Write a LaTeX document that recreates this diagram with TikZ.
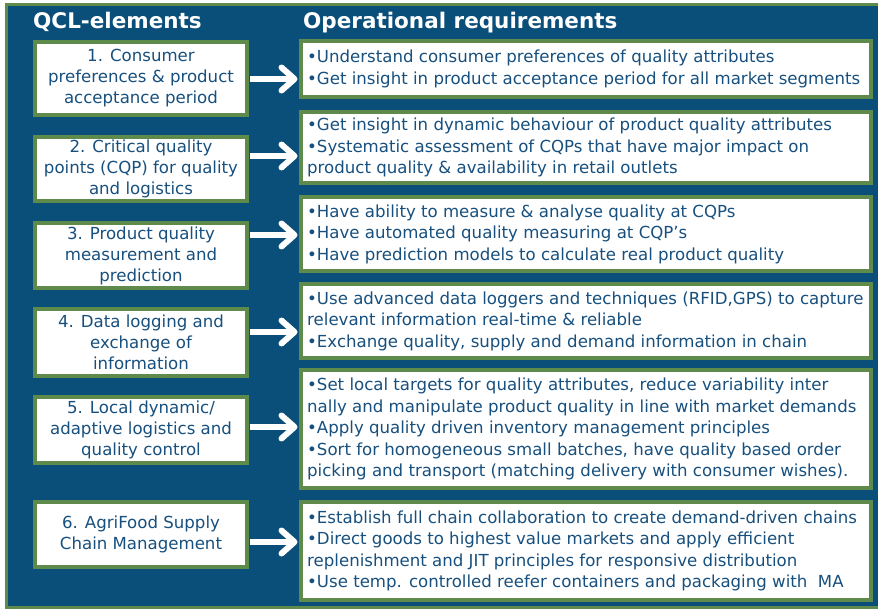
\documentclass[tikz,border=0pt]{standalone}
\usepackage{fontspec}
\setmainfont{DejaVu Sans}
\newfontfamily\titlefont{DejaVu Sans}
\usetikzlibrary{arrows.meta}
\definecolor{bgblue}{HTML}{0A4E7A}
\definecolor{frgreen}{HTML}{5E8A4C}
\definecolor{txtblue}{HTML}{17507E}
\begin{document}
\begin{tikzpicture}[x=1pt,y=-1pt,
  lbox/.style={draw=frgreen, line width=4pt, fill=white, minimum width=212pt, align=center, text=txtblue, font=\fontsize{16.6}{21}\selectfont, inner sep=0pt},
  rbox/.style={draw=frgreen, line width=4pt, fill=white, minimum width=570pt, inner sep=0pt},
  rtext/.style={anchor=west, align=left, text=txtblue, font=\fontsize{16.6}{21.5}\selectfont, inner sep=0pt},
  title/.style={text=white, font=\titlefont\bfseries\fontsize{21.5}{24}\selectfont, anchor=base west, inner sep=0pt},
  arr/.style={draw=white, line width=6pt, shorten <=0.5pt, shorten >=1.5pt, -{Straight Barb[length=13pt,width=23pt,round]}}
]
\useasboundingbox (0,0) rectangle (878,610);
\clip (0,0) rectangle (878,610);
\fill[white] (0,0) rectangle (878,610);
\draw[frgreen, line width=3pt, fill=bgblue] (6,5) rectangle (886,607);

\node[title] (t1) at (33,29) {QCL-elements};
\node[title] (t2) at (303,29) {Operational requirements};

% arrow levels
\coordinate (y1) at (0,79);
\coordinate (y2) at (0,156);
\coordinate (y3) at (0,235);
\coordinate (y4) at (0,332);
\coordinate (y5) at (0,427);
\coordinate (y6) at (0,542);

\path
  (141,78.5) node[lbox, minimum height=73pt] (l1) {1. Consumer\\preferences \& product\\acceptance period}
  (141,169) node[lbox, minimum height=64pt] (l2) {2. Critical quality\\points (CQP) for quality\\and logistics}
  (141,255.5) node[lbox, minimum height=65pt] (l3) {3. Product quality\\measurement and\\prediction}
  (141,342.5) node[lbox, minimum height=67pt] (l4) {4. Data logging and\\exchange of\\information}
  (141,430) node[lbox, minimum height=66pt] (l5) {5. Local dynamic/\\adaptive logistics and\\quality control}
  (141,534.5) node[lbox, minimum height=65pt] (l6) {6. AgriFood Supply\\Chain Management};

\path
  (586,69) node[rbox, minimum height=56pt] (r1) {}
  (586,147.5) node[rbox, minimum height=71pt] (r2) {}
  (586,234) node[rbox, minimum height=74pt] (r3) {}
  (586,321) node[rbox, minimum height=74pt] (r4) {}
  (586,429) node[rbox, minimum height=118pt] (r5) {}
  (586,551) node[rbox, minimum height=98pt] (r6) {};

\draw[arr] (l1.east |- y1) -- (r1.west |- y1);
\draw[arr] (l2.east |- y2) -- (r2.west |- y2);
\draw[arr] (l3.east |- y3) -- (r3.west |- y3);
\draw[arr] (l4.east |- y4) -- (r4.west |- y4);
\draw[arr] (l5.east |- y5) -- (r5.west |- y5);
\draw[arr] (l6.east |- y6) -- (r6.west |- y6);

\node[rtext] (x1) at ([xshift=8pt]r1.west) {•Understand consumer preferences of quality attributes\\•Get insight in product acceptance period for all market segments};
\node[rtext] (x2) at ([xshift=8pt]r2.west) {•Get insight in dynamic behaviour of product quality attributes\\•Systematic assessment of CQPs that have major impact on\\product quality \& availability in retail outlets};
\node[rtext] (x3) at ([xshift=8pt]r3.west) {•Have ability to measure \& analyse quality at CQPs\\•Have automated quality measuring at CQP's\\•Have prediction models to calculate real product quality};
\node[rtext] (x4) at ([xshift=8pt]r4.west) {•Use advanced data loggers and techniques (RFID,GPS) to capture\\relevant information real-time \& reliable\\•Exchange quality, supply and demand information in chain};
\node[rtext] (x5) at ([xshift=8pt]r5.west) {•Set local targets for quality attributes, reduce variability inter\\nally and manipulate product quality in line with market demands\\•Apply quality driven inventory management principles\\•Sort for homogeneous small batches, have quality based order\\picking and transport (matching delivery with consumer wishes).};
\node[rtext] (x6) at ([xshift=8pt]r6.west) {•Establish full chain collaboration to create demand-driven chains\\•Direct goods to highest value markets and apply efficient\\replenishment and JIT principles for responsive distribution\\•Use temp. controlled reefer containers and packaging with~ MA};
\end{tikzpicture}
\end{document}
